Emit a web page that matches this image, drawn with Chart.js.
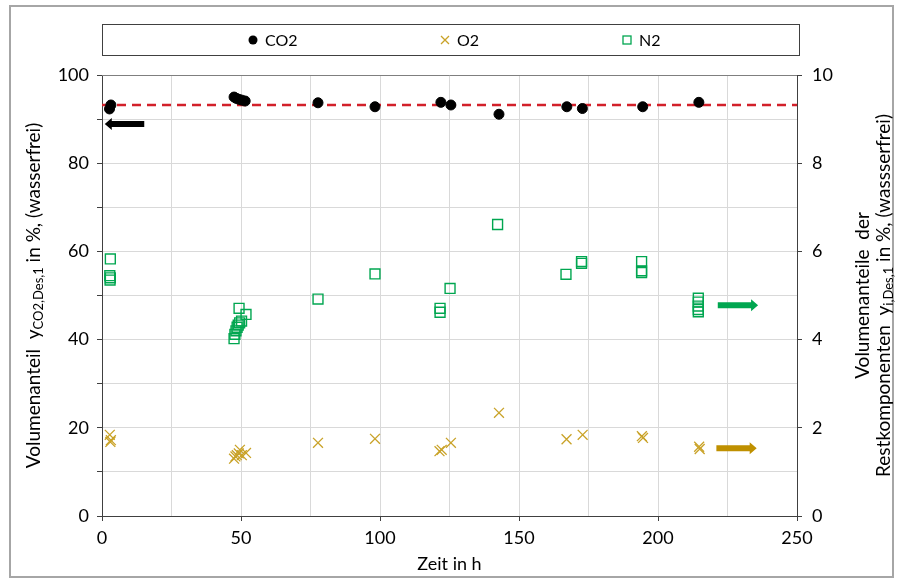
<!DOCTYPE html>
<html>
<head>
<meta charset="utf-8">
<script src="https://cdn.jsdelivr.net/npm/chart.js@4.4.1/dist/chart.umd.min.js"></script>
<style>
  html, body { margin: 0; padding: 0; background: #fff; }
  #wrap { width: 899px; height: 581px; position: relative; }
</style>
</head>
<body>
<div id="wrap"><canvas id="desChart"></canvas></div>
<script>
// CO2 (left axis, %)
const co2X = [3.2, 2.7, 47.5, 48.3, 49.2, 50.3, 51.5, 77.7, 98.2, 121.9, 125.5, 142.8, 167.2, 172.8, 194.5, 214.7];
const co2Y = [93.2, 92.3, 95.0, 94.7, 94.5, 94.3, 94.1, 93.7, 92.8, 93.8, 93.2, 91.1, 92.8, 92.4, 92.8, 93.8];

// O2 (right axis, %)
const o2X = [2.8, 3.2, 3.0, 47.5, 48.0, 48.5, 49.2, 49.6, 50.3, 51.8, 77.7, 98.2, 121.4, 122.2, 125.5, 142.8, 167.1, 172.9, 194.2, 194.6, 214.8, 215.0];
const o2Y = [1.84, 1.72, 1.68, 1.30, 1.35, 1.38, 1.42, 1.50, 1.38, 1.43, 1.66, 1.75, 1.47, 1.50, 1.66, 2.34, 1.74, 1.84, 1.81, 1.77, 1.57, 1.52];

// N2 (right axis, %)
const n2X = [3.0, 2.8, 3.0, 2.9, 47.5, 47.8, 48.2, 48.6, 49.0, 49.5, 50.2, 49.3, 51.8, 77.7, 98.2, 121.6, 121.6, 125.2, 142.3, 166.9, 172.5, 172.5, 194.1, 194.1, 194.1, 214.5, 214.5, 214.5, 214.5, 214.5];
const n2Y = [5.83, 5.45, 5.40, 5.35, 4.02, 4.12, 4.20, 4.28, 4.33, 4.38, 4.42, 4.71, 4.57, 4.92, 5.49, 4.71, 4.62, 5.16, 6.61, 5.48, 5.77, 5.73, 5.77, 5.56, 5.52, 4.94, 4.85, 4.76, 4.68, 4.63];

// mean CO2 reference line
const refX = [0, 250];
const refY = 93.2;

// arrows showing which axis belongs to which series
const arrowFrom = [15.2, 221.5, 221.0];
const arrowTo = [1.0, 236.0, 235.5];
const arrowY = [88.9, 4.78, 1.535];
const arrowAxis = ['y', 'y2', 'y2'];

const seriesNames = ['CO2', 'O2', 'N2'];

const FONT = 'Lato, "Open Sans", sans-serif';
const GOLD = '#C9A227';
const GREEN = '#00A650';
const toPts = (xs, ys) => xs.map((x, i) => ({ x: x, y: ys[i] }));

// titles, legend, arrows, frame
const decorPlugin = {
  id: 'decor',
  afterDraw(chart) {
    const ctx = chart.ctx;
    const area = chart.chartArea;
    const sx = chart.scales.x;

    ctx.save();
    // outer frame
    ctx.strokeStyle = '#A6A6A6';
    ctx.lineWidth = 2;
    ctx.strokeRect(10, 6, 883, 571);

    // top frame of plot
    ctx.strokeStyle = '#7F7F7F';
    ctx.lineWidth = 1;
    ctx.beginPath();
    ctx.moveTo(area.left, area.top + 0.5);
    ctx.lineTo(area.right, area.top + 0.5);
    ctx.stroke();

    // arrows
    const arrowColors = ['#000000', '#00A650', '#BF9000'];
    arrowFrom.forEach((f, i) => {
      const sy = chart.scales[arrowAxis[i]];
      const x0 = sx.getPixelForValue(f);
      const x1 = sx.getPixelForValue(arrowTo[i]);
      const y = sy.getPixelForValue(arrowY[i]);
      const dir = Math.sign(x1 - x0);
      const headLen = 7, half = 3, headHalf = 6;
      ctx.fillStyle = arrowColors[i];
      ctx.beginPath();
      ctx.moveTo(x0, y - half);
      ctx.lineTo(x1 - dir * headLen, y - half);
      ctx.lineTo(x1 - dir * headLen, y - headHalf);
      ctx.lineTo(x1, y);
      ctx.lineTo(x1 - dir * headLen, y + headHalf);
      ctx.lineTo(x1 - dir * headLen, y + half);
      ctx.lineTo(x0, y + half);
      ctx.closePath();
      ctx.fill();
    });

    // legend
    ctx.strokeStyle = '#404040';
    ctx.lineWidth = 1;
    ctx.strokeRect(102.5, 24.5, 697, 31);
    const legX = [253, 445, 627];
    const ly = 40;
    ctx.font = '16px ' + FONT;
    ctx.textBaseline = 'middle';
    ctx.textAlign = 'left';
    legX.forEach((lx, i) => {
      if (i === 0) {
        ctx.fillStyle = '#000';
        ctx.beginPath();
        ctx.arc(lx, ly, 4.5, 0, Math.PI * 2);
        ctx.fill();
      } else if (i === 1) {
        ctx.strokeStyle = GOLD;
        ctx.lineWidth = 1.3;
        ctx.beginPath();
        ctx.moveTo(lx - 4, ly - 4); ctx.lineTo(lx + 4, ly + 4);
        ctx.moveTo(lx + 4, ly - 4); ctx.lineTo(lx - 4, ly + 4);
        ctx.stroke();
      } else {
        ctx.strokeStyle = GREEN;
        ctx.lineWidth = 1.3;
        ctx.strokeRect(lx - 4, ly - 4, 8, 8);
      }
      ctx.fillStyle = '#000';
      ctx.fillText(seriesNames[i], lx + 12, ly + 1);
    });

    // axis titles
    const drawRich = (parts, cx, cy) => {
      const big = '19px ' + FONT, small = '13px ' + FONT;
      let total = 0;
      parts.forEach(p => { ctx.font = p.sub ? small : big; total += ctx.measureText(p.t).width; });
      ctx.save();
      ctx.translate(cx, cy);
      ctx.rotate(-Math.PI / 2);
      ctx.fillStyle = '#000';
      ctx.textAlign = 'left';
      ctx.textBaseline = 'middle';
      let x = -total / 2;
      parts.forEach(p => {
        ctx.font = p.sub ? small : big;
        ctx.fillText(p.t, x, p.sub ? 5 : 0);
        x += ctx.measureText(p.t).width;
      });
      ctx.restore();
    };
    const midY = (area.top + area.bottom) / 2;
    drawRich([{ t: 'Volumenanteil  y' }, { t: 'CO2,Des,1', sub: true }, { t: ' in %, (wasserfrei)' }], 34, midY);
    drawRich([{ t: 'Volumenanteile  der' }], 863, midY);
    drawRich([{ t: 'Restkomponenten  y' }, { t: 'i,Des,1', sub: true }, { t: ' in %, (wassserfrei)' }], 884, midY);

    ctx.font = '18px ' + FONT;
    ctx.textAlign = 'center';
    ctx.textBaseline = 'middle';
    ctx.fillStyle = '#000';
    ctx.fillText('Zeit in h', (area.left + area.right) / 2, 564);
    ctx.restore();
  }
};

const ctx = document.getElementById('desChart').getContext('2d');
new Chart(ctx, {
  type: 'scatter',
  data: {
    datasets: [
      {
        label: seriesNames[0],
        data: toPts(co2X, co2Y),
        yAxisID: 'y',
        pointStyle: 'circle',
        pointRadius: 5,
        backgroundColor: '#000',
        borderColor: '#000',
        borderWidth: 1,
        order: 0,
      },
      {
        label: seriesNames[1],
        data: toPts(o2X, o2Y),
        yAxisID: 'y2',
        pointStyle: 'crossRot',
        pointRadius: 7,
        borderColor: GOLD,
        borderWidth: 1.3,
        order: 1,
      },
      {
        label: seriesNames[2],
        data: toPts(n2X, n2Y),
        yAxisID: 'y2',
        pointStyle: 'rect',
        pointRadius: 7,
        backgroundColor: 'rgba(255,255,255,0)',
        borderColor: GREEN,
        borderWidth: 1.4,
        order: 2,
      },
      {
        type: 'line',
        label: 'Mittelwert',
        data: toPts(refX, [refY, refY]),
        yAxisID: 'y',
        borderColor: '#D2202A',
        borderWidth: 2.5,
        borderDash: [9, 6],
        pointRadius: 0,
        fill: false,
        order: 10,
      },
    ],
  },
  options: {
    responsive: true,
    maintainAspectRatio: false,
    animation: false,
    layout: { padding: { top: 75, left: 0, right: 0, bottom: 0 } },
    plugins: {
      legend: { display: false },
      tooltip: { enabled: false },
    },
    scales: {
      x: {
        type: 'linear',
        min: 0,
        max: 250,
        afterFit: (s) => { s.height = 65; },
        ticks: {
          stepSize: 25,
          autoSkip: false,
          maxRotation: 0,
          padding: 6,
          color: '#000',
          font: { family: FONT, size: 18 },
          callback: (v) => (v % 50 === 0 ? v : ''),
        },
        grid: {
          color: '#D9D9D9',
          lineWidth: 1,
          tickLength: 5,
          tickColor: (c) => (c.tick && c.tick.value % 50 === 0 ? '#404040' : 'rgba(0,0,0,0)'),
        },
        border: { color: '#404040', width: 1 },
      },
      y: {
        position: 'left',
        min: 0,
        max: 100,
        afterFit: (s) => { s.width = 102; },
        ticks: {
          stepSize: 10,
          padding: 8,
          color: '#000',
          font: { family: FONT, size: 18 },
          callback: (v) => (v % 20 === 0 ? v : ''),
        },
        grid: { color: '#D9D9D9', lineWidth: 1, tickLength: 5, tickColor: '#404040' },
        border: { color: '#404040', width: 1 },
      },
      y2: {
        position: 'right',
        min: 0,
        max: 10,
        afterFit: (s) => { s.width = 102; },
        ticks: {
          stepSize: 2,
          padding: 10,
          color: '#000',
          font: { family: FONT, size: 18 },
        },
        grid: { drawOnChartArea: false, tickLength: 5, tickColor: '#404040' },
        border: { color: '#404040', width: 1 },
      },
    },
  },
  plugins: [decorPlugin],
});
</script>
</body>
</html>
